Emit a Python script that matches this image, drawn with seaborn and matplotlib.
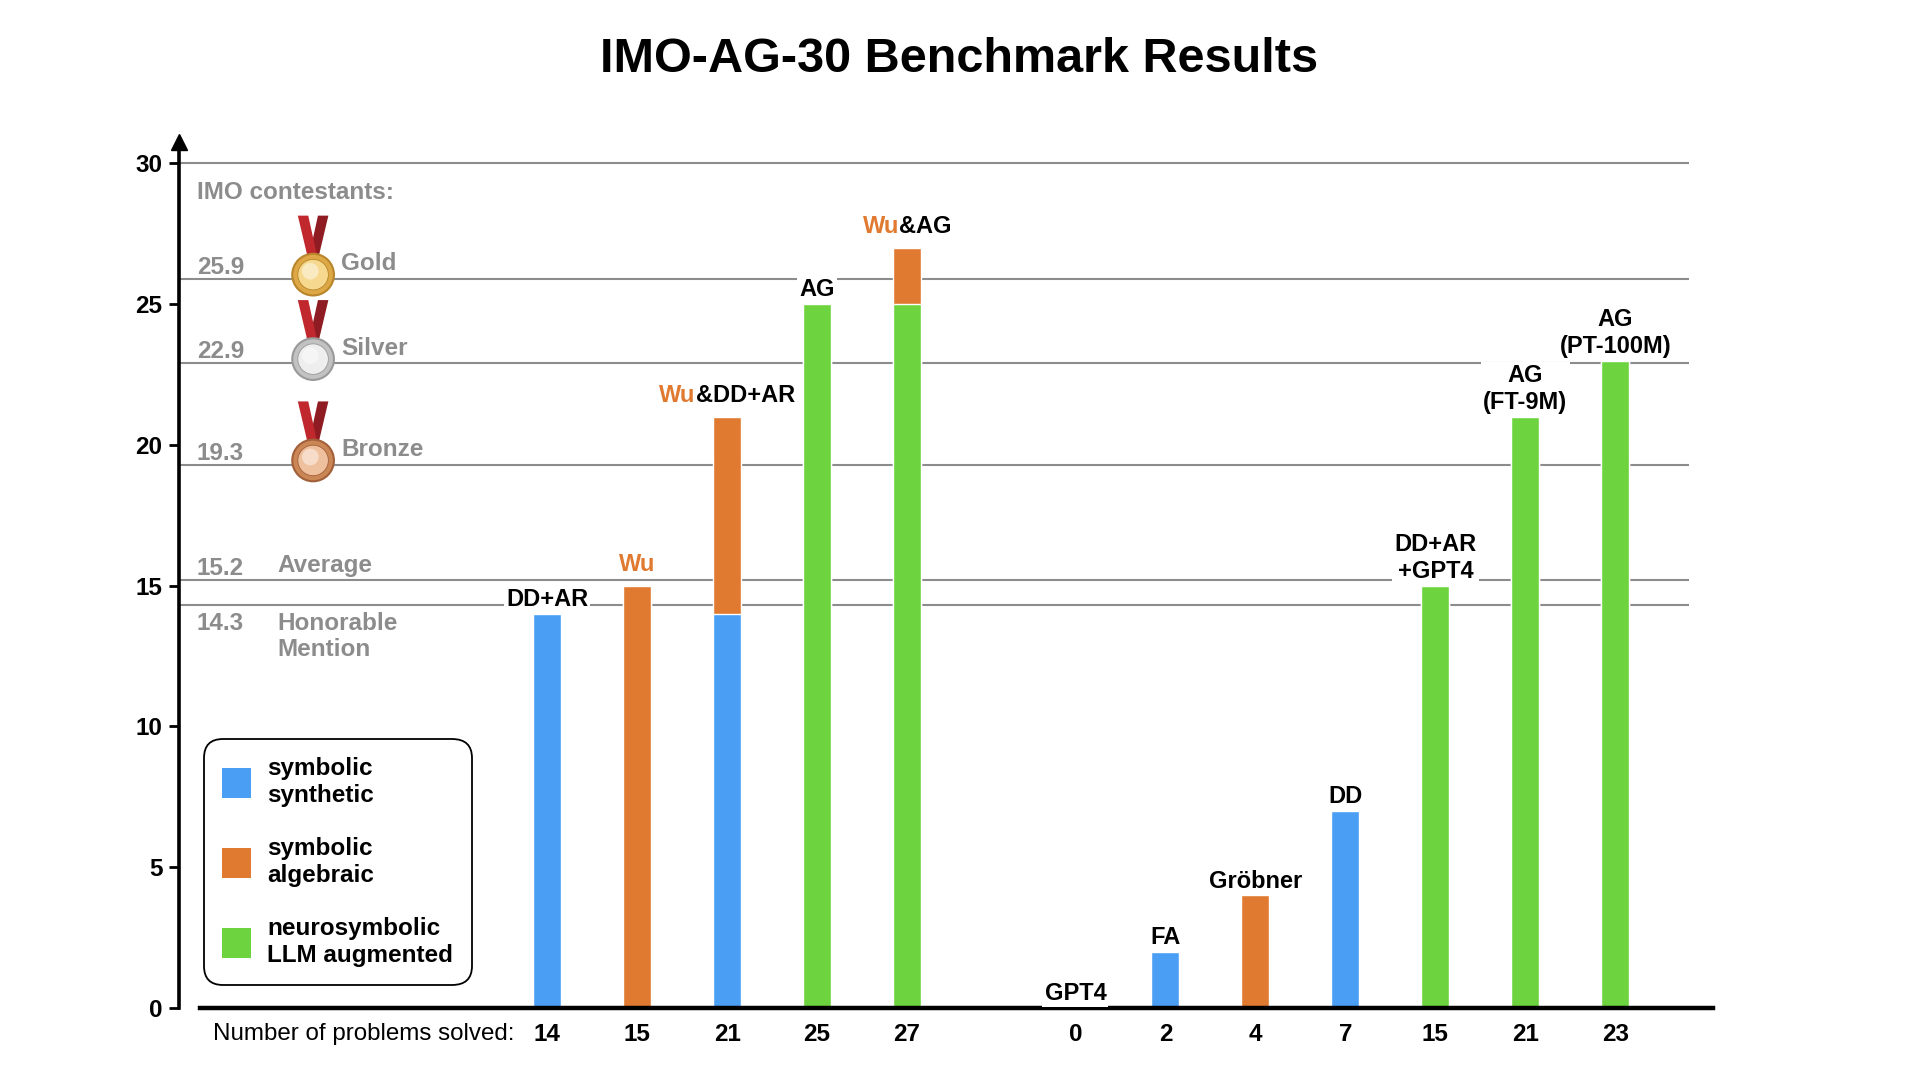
import numpy as np
import pandas as pd
import matplotlib
matplotlib.use("Agg")
import matplotlib.pyplot as plt
import seaborn as sns
from matplotlib.patches import Patch, Circle, Polygon
from matplotlib.offsetbox import AnnotationBbox, TextArea, HPacker, DrawingArea

# Valores
label_orange = ["", "Wu", "Wu", "", "Wu", "", "", "", "", "", "", ""]
label_black = ["DD+AR", "", "&DD+AR", "AG", "&AG",
               "GPT4", "FA", "Gröbner", "DD", "DD+AR\n+GPT4", "AG\n(FT-9M)", "AG\n(PT-100M)"]
solved = [14, 15, 21, 25, 27, 0, 2, 4, 7, 15, 21, 23]
base_solved = [14, 15, 14, 25, 25, 0, 2, 4, 7, 15, 21, 23]
base_kind = ["synthetic", "algebraic", "synthetic", "neuro", "neuro",
             "synthetic", "synthetic", "algebraic", "synthetic", "neuro", "neuro", "neuro"]
top_kind = ["synthetic", "algebraic", "algebraic", "neuro", "algebraic",
            "synthetic", "synthetic", "algebraic", "synthetic", "neuro", "neuro", "neuro"]
group = [0, 0, 0, 0, 0, 1, 1, 1, 1, 1, 1, 1]

kinds = ["synthetic", "algebraic", "neuro"]
kind_labels = ["symbolic\nsynthetic", "symbolic\nalgebraic", "neurosymbolic\nLLM augmented"]
kind_colors = ["#4A9FF5", "#E07A30", "#6DD43F"]

imo_levels = ["Gold", "Silver", "Bronze", "Average", "Honorable\nMention"]
imo_scores = [25.9, 22.9, 19.3, 15.2, 14.3]

# colores de las medallas: borde, cara, brillo
medal_style = {
    "Gold": ("#B8862B", "#DDA845", "#F6D98F"),
    "Silver": ("#9A9A9A", "#C2C2C2", "#EEEEEE"),
    "Bronze": ("#A2603A", "#CB8656", "#EFC09E"),
}

GREY = "#8C8C8C"
group_gap = 0.87

sns.set_style("white")
plt.rcParams["font.family"] = ["Liberation Sans", "DejaVu Sans"]
plt.rcParams.update({"text.color": "black", "axes.labelcolor": "black",
                     "xtick.color": "black", "ytick.color": "black",
                     "axes.edgecolor": "black"})

df = pd.DataFrame({
    "pos": np.arange(len(solved)) + group_gap * np.array(group),
    "solved": solved,
    "base_solved": base_solved,
    "base_kind": base_kind,
    "top_kind": top_kind,
})
palette = dict(zip(kinds, kind_colors))

fig = plt.figure(figsize=(19.2, 10.8), dpi=100)
ax = fig.add_axes([179 / 1920, 72 / 1080, 1533.6 / 1920, 866.5 / 1080])

# barra total (color de la parte superior) y encima la parte base
sns.barplot(data=df, x="pos", y="solved", hue="top_kind", palette=palette,
            native_scale=True, width=0.31, dodge=False, saturation=1,
            errorbar=None, legend=False, ax=ax, zorder=2)
sns.barplot(data=df, x="pos", y="base_solved", hue="base_kind", palette=palette,
            native_scale=True, width=0.31, dodge=False, saturation=1,
            errorbar=None, legend=False, ax=ax, zorder=2)

ax.set_xlim(-4.09, 12.95)
ax.set_ylim(0, 30.78)
ax.set(xlabel="", ylabel="")

# líneas de referencia IMO
ax.hlines([30] + imo_scores, -4.09, 12.69, color=GREY, lw=1.5, zorder=0.8)

# ejes
for side in ["top", "right"]:
    ax.spines[side].set_visible(False)
ax.spines["left"].set_linewidth(2.6)
ax.spines["bottom"].set_linewidth(3.2)
ax.spines["bottom"].set_bounds(-3.86, 12.95)
ax.spines["bottom"].set_zorder(3)
ax.plot([0], [1], marker="^", ms=11.5, color="black", transform=ax.transAxes,
        clip_on=False, zorder=5)

ax.set_yticks(range(0, 31, 5))
ax.set_yticklabels([str(v) for v in range(0, 31, 5)], fontweight="bold", fontsize=17.5)
ax.tick_params(axis="y", length=7, width=2, pad=5, direction="out", left=True)
ax.set_xticks(df["pos"])
ax.set_xticklabels([str(s) for s in solved], fontweight="bold", fontsize=17.5)
ax.tick_params(axis="x", length=0, pad=10.5)
ax.annotate("Number of problems solved:", xy=(-0.36, 0), xytext=(0, -10.5),
            textcoords="offset points", ha="right", va="top", fontsize=17.4)

# etiquetas encima de las barras
for x, h, orange, black in zip(df["pos"], solved, label_orange, label_black):
    parts = []
    if orange:
        parts.append(TextArea(orange, textprops=dict(color=kind_colors[1], fontsize=17,
                                                     fontweight="bold")))
    if black:
        parts.append(TextArea(black, textprops=dict(color="black", fontsize=17,
                                                    fontweight="bold",
                                                    multialignment="center")))
    box = HPacker(children=parts, align="baseline", pad=0, sep=0)
    ab = AnnotationBbox(box, (x, h), xybox=(0, 7 if orange else 2), xycoords="data",
                        boxcoords="offset points", box_alignment=(0.5, 0),
                        frameon=True, pad=0.15,
                        bboxprops=dict(facecolor="white", edgecolor="none"))
    ab.set_zorder(6)
    ax.add_artist(ab)

# textos de los concursantes IMO
ax.text(-3.89, 28.73, "IMO contestants:", color=GREY, fontsize=17.5,
        fontweight="bold", va="baseline")
for level, score in zip(imo_levels, imo_scores):
    name_x = -2.29 if level in medal_style else -3.0
    if "\n" in level:
        ax.text(-3.89, score - 0.22, f"{score}", color=GREY, fontsize=17.5,
                fontweight="bold", va="top")
        ax.text(name_x, score - 0.22, level, color=GREY, fontsize=17.5,
                fontweight="bold", va="top")
    else:
        ax.text(-3.89, score + 0.18, f"{score}", color=GREY, fontsize=17.5,
                fontweight="bold", va="baseline")
        ax.text(name_x, score + 0.3, level, color=GREY, fontsize=17.5,
                fontweight="bold", va="baseline")

# medallas dibujadas con parches
for level, score in zip(imo_levels, imo_scores):
    if level not in medal_style:
        continue
    edge, face, shine = medal_style[level]
    da = DrawingArea(32, 60, 0, 0)
    da.add_artist(Polygon([(19.5, 58.5), (27, 58.5), (20, 29), (13, 29)],
                          closed=True, facecolor="#8E1C22", edgecolor="none"))
    da.add_artist(Polygon([(5, 58.5), (12.5, 58.5), (19, 29), (12, 29)],
                          closed=True, facecolor="#C0282E", edgecolor="none"))
    da.add_artist(Circle((16, 16), 15, facecolor=face, edgecolor=edge, lw=1.5))
    da.add_artist(Circle((16, 16), 11, facecolor=shine, edgecolor=edge, lw=0.6))
    da.add_artist(Circle((14, 18.5), 6, facecolor="white", edgecolor="none", alpha=0.45))
    ab = AnnotationBbox(da, (-2.6, score + 0.15), xycoords="data",
                        box_alignment=(0.5, 16 / 60), frameon=False)
    ab.set_zorder(4)
    ax.add_artist(ab)

# leyenda
handles = [Patch(facecolor=c, edgecolor="none") for c in kind_colors]
leg = ax.legend(handles, kind_labels, loc="lower left",
                bbox_to_anchor=(204 / 1920, 95 / 1080), bbox_transform=fig.transFigure,
                borderaxespad=0, prop=dict(weight="bold", size=17.5),
                handlelength=1.2, handleheight=1.5, handletextpad=0.66,
                labelspacing=1.25, borderpad=0.75, frameon=True, framealpha=1,
                edgecolor="black", fancybox=True)
leg.get_frame().set_boxstyle("round,pad=0,rounding_size=0.8")
leg.get_frame().set_linewidth(1.3)
leg.set_zorder(7)

fig.text(959 / 1920, 1 - 59 / 1080, "IMO-AG-30 Benchmark Results", ha="center",
         va="center", fontsize=35, fontweight="bold", color="black")

fig.savefig("out.png", dpi=100)
